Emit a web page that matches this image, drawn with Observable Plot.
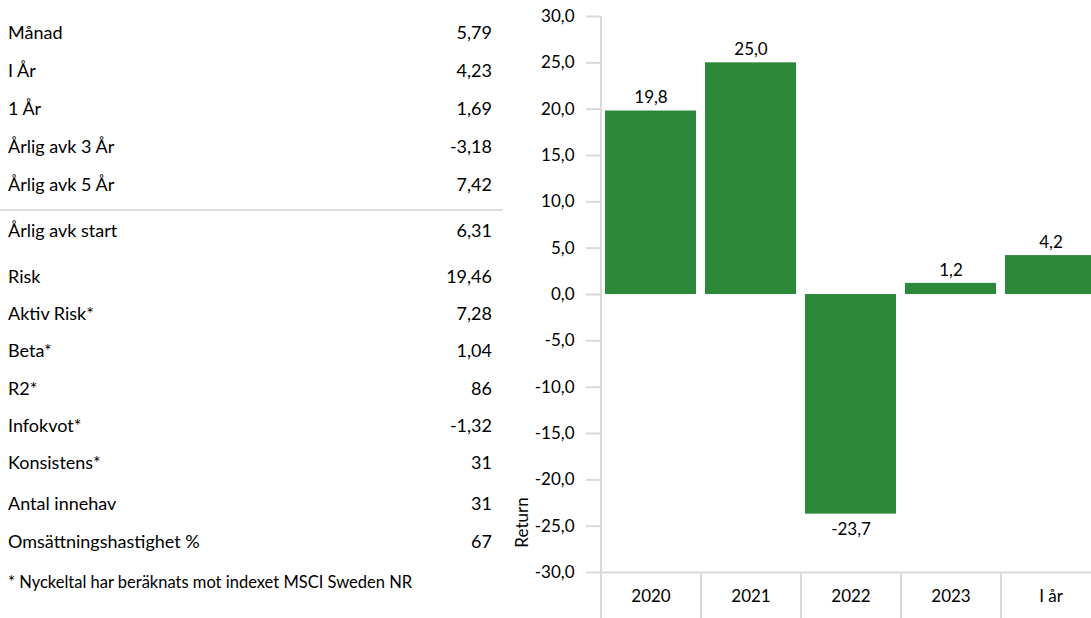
<!DOCTYPE html>
<html>
<head>
<meta charset="utf-8">
<script src="https://cdn.jsdelivr.net/npm/d3@7"></script>
<script src="https://cdn.jsdelivr.net/npm/@observablehq/plot@0.6"></script>
<style>
  html, body { margin: 0; padding: 0; width: 1091px; height: 618px; overflow: hidden; background: #fff; }
  body { font-family: Lato, "Open Sans", sans-serif; color: #000; position: relative; }
  #table { position: absolute; left: 0; top: 13px; width: 503px; font-size: 18px; }
  .row { height: 38px; line-height: 38px; display: flex; justify-content: space-between; padding: 0 11px 0 8px; }
  .row.tight { height: 37.2px; line-height: 37.2px; }
  .divider { height: 2px; background: #dcdcdc; margin-top: 6px; }
  .gap9 { margin-top: 9px; }
  .gap4 { margin-top: 3px; }
  #note { font-size: 16.5px; padding-left: 8px; margin-top: 3px; height: 38px; line-height: 38px; }
  #chart { position: absolute; left: 500px; top: 0; width: 600px; height: 618px; }
</style>
</head>
<body>
<div id="table"></div>
<div id="chart"></div>
<script>
// ---- data ----
const statsGroup1Labels = ["Månad", "I År", "1 År", "Årlig avk 3 År", "Årlig avk 5 År"];
const statsGroup1Values = ["5,79", "4,23", "1,69", "-3,18", "7,42"];
const statsStartLabel = "Årlig avk start";
const statsStartValue = "6,31";
const statsGroup2Labels = ["Risk", "Aktiv Risk*", "Beta*", "R2*", "Infokvot*", "Konsistens*"];
const statsGroup2Values = ["19,46", "7,28", "1,04", "86", "-1,32", "31"];
const statsGroup3Labels = ["Antal innehav", "Omsättningshastighet %"];
const statsGroup3Values = ["31", "67"];
const footnote = "* Nyckeltal har beräknats mot indexet MSCI Sweden NR";

const categories = ["2020", "2021", "2022", "2023", "I år"];
const returns = [19.8, 25.0, -23.7, 1.2, 4.2];
const yTicks = [-30, -25, -20, -15, -10, -5, 0, 5, 10, 15, 20, 25, 30];
const yLabel = "Return";

// ---- table ----
const table = document.getElementById("table");
function addRow(label, value, cls) {
  const r = document.createElement("div");
  r.className = "row" + (cls ? " " + cls : "");
  const a = document.createElement("span"); a.textContent = label;
  const b = document.createElement("span"); b.textContent = value;
  r.appendChild(a); r.appendChild(b);
  table.appendChild(r);
}
statsGroup1Labels.forEach((l, i) => addRow(l, statsGroup1Values[i]));
const div = document.createElement("div"); div.className = "divider"; table.appendChild(div);
addRow(statsStartLabel, statsStartValue);
statsGroup2Labels.forEach((l, i) => addRow(l, statsGroup2Values[i], "tight" + (i === 0 ? " gap9" : "")));
statsGroup3Labels.forEach((l, i) => addRow(l, statsGroup3Values[i], i === 0 ? "gap4" : ""));
const note = document.createElement("div"); note.id = "note"; note.textContent = footnote; table.appendChild(note);

// ---- chart ----
const data = categories.map((c, i) => ({cat: c, value: returns[i]}));
const W = 600, H = 618, mL = 100, mR = 0, mT = 16, mB = 46;
const bw = (W - mL - mR) / categories.length;
const frameH = H - mT - mB;
const fmt = d => d.toFixed(1).replace(".", ",");
const green = "#2c893a";
const grid = "#d9d9d9";

const chart = Plot.plot({
  width: W, height: H,
  marginLeft: mL, marginRight: mR, marginTop: mT, marginBottom: mB,
  style: {fontFamily: "Lato, sans-serif", fontSize: "17px", color: "#000", background: "transparent", overflow: "visible"},
  x: {domain: categories, paddingInner: 0.09, paddingOuter: 0.045},
  y: {domain: [-30, 30]},
  marks: [
    Plot.barY(data, {x: "cat", y: "value", fill: green}),
    Plot.ruleY([-30], {stroke: grid, strokeWidth: 2}),
    // y axis line, extends below the plot
    Plot.ruleX([categories[0]], {stroke: grid, strokeWidth: 2, dx: -bw / 2, insetBottom: -mB}),
    // category separators below the x axis
    Plot.ruleX(categories.slice(1), {stroke: grid, strokeWidth: 2, dx: -bw / 2, insetTop: frameH, insetBottom: -mB}),
    Plot.axisY({ticks: yTicks, tickSize: 14, tickPadding: 12, tickFormat: fmt, stroke: grid, strokeWidth: 2, strokeOpacity: 1, label: null, fill: "#000"}),
    Plot.axisX({tickSize: 0, tickPadding: 17, label: null, fill: "#000"}),
    Plot.text(data.filter(d => d.value >= 0), {x: "cat", y: "value", text: d => fmt(d.value), dy: -13, fill: "#000"}),
    Plot.text(data.filter(d => d.value < 0), {x: "cat", y: "value", text: d => fmt(d.value), dy: 15, fill: "#000"}),
    Plot.text([yLabel], {frameAnchor: "bottom-left", text: d => d, rotate: -90, textAnchor: "middle", lineAnchor: "middle", dx: -78, dy: -50, fill: "#000"})
  ]
});
document.getElementById("chart").appendChild(chart);
</script>
</body>
</html>
